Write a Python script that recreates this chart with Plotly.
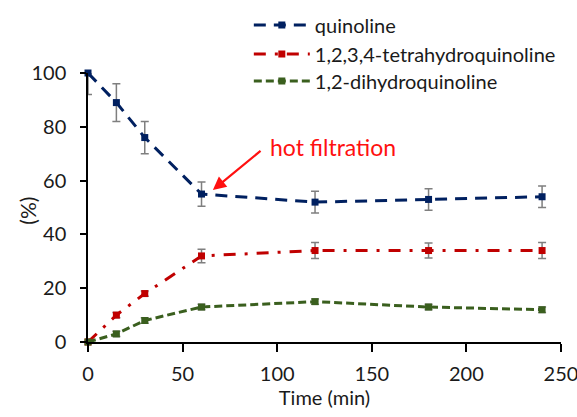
import plotly.graph_objects as go

time = [0, 15, 30, 60, 120, 180, 240]
quinoline = [100, 89, 76, 55, 52, 53, 54]
quinoline_err_plus = [0, 7, 6, 4.5, 4, 4, 4]
quinoline_err_minus = [8, 7, 6, 4.5, 4, 4, 4]
thq = [0, 10, 18, 32, 34, 34, 34]
thq_err = [0.5, 1, 1, 2.5, 3, 2.8, 3]
dhq = [0, 3, 8, 13, 15, 13, 12]
dhq_err = [0.5, 1, 1, 1, 1, 1, 1]

names = ["quinoline", "1,2,3,4-tetrahydroquinoline", "1,2-dihydroquinoline"]
colors = ["#002060", "#C00000", "#3A5F1E"]
dashes = ["12px,8px", "12px,9px,3px,9px", "8px,4px"]
legend_ids = ["legend", "legend2", "legend3"]
legend_y = [0.940, 0.8705, 0.8058]

FONT = "Lato, 'Open Sans', sans-serif"
fig = go.Figure()
series = [(quinoline, quinoline_err_plus, quinoline_err_minus),
          (thq, thq_err, thq_err),
          (dhq, dhq_err, dhq_err)]
for name, (y, ep, em), c, d, lid in zip(names, series, colors, dashes, legend_ids):
    fig.add_trace(go.Scatter(
        x=time, y=y, name=name, mode="lines+markers", legend=lid,
        line=dict(color=c, width=3, dash=d),
        marker=dict(symbol="square", size=7, color=c),
        error_y=dict(type="data", array=ep, arrayminus=em, symmetric=False, visible=True,
                     color="#7F7F7F", thickness=1.5, width=4),
        cliponaxis=False,
    ))

fig.add_annotation(x=66, y=56.5, ax=92, ay=71.5, axref="x", ayref="y", xref="x", yref="y",
                   text="", showarrow=True, arrowhead=2, arrowsize=1.2, arrowwidth=2.2, arrowcolor="#FF1010")
fig.add_annotation(x=95, y=72.5, xref="x", yref="y", text="hot filtration", showarrow=False,
                   xanchor="left", yanchor="middle", font=dict(size=23, color="#FF1010", family=FONT))
fig.add_annotation(x=-0.128, y=0.49, xref="paper", yref="paper", text="(%)", showarrow=False,
                   textangle=-90, xanchor="center", yanchor="middle", font=dict(size=21, family=FONT))

leg_common = dict(x=0.340, xanchor="left", yanchor="middle", yref="container", itemwidth=56,
                  font=dict(size=20, family=FONT), bgcolor="rgba(0,0,0,0)")
fig.update_layout(
    width=577, height=417,
    margin=dict(l=88, r=16, t=73, b=75, autoexpand=False),
    paper_bgcolor="white", plot_bgcolor="white",
    font=dict(family=FONT, size=17, color="#1a1a1a"),
    showlegend=True,
    legend=dict(y=legend_y[0], **leg_common),
    legend2=dict(y=legend_y[1], **leg_common),
    legend3=dict(y=legend_y[2], **leg_common),
    xaxis=dict(range=[0, 250], tickvals=[0, 50, 100, 150, 200, 250], showgrid=False, zeroline=False,
               showline=True, linecolor="#000", linewidth=1.5, ticks="outside", ticklen=8, tickwidth=1.5,
               tickcolor="#000", tickfont=dict(size=20), ticklabelstandoff=5, ticklabeloverflow="allow",
               automargin=False, title=dict(text="Time (min)", font=dict(size=20), standoff=4)),
    yaxis=dict(range=[0, 100], tickvals=[0, 20, 40, 60, 80, 100], showgrid=False, zeroline=False,
               showline=True, linecolor="#000", linewidth=1.5, ticks="outside", ticklen=6, tickwidth=1.5,
               tickcolor="#000", tickfont=dict(size=20), ticklabelstandoff=10, automargin=False),
)
fig.write_html("out.html")
